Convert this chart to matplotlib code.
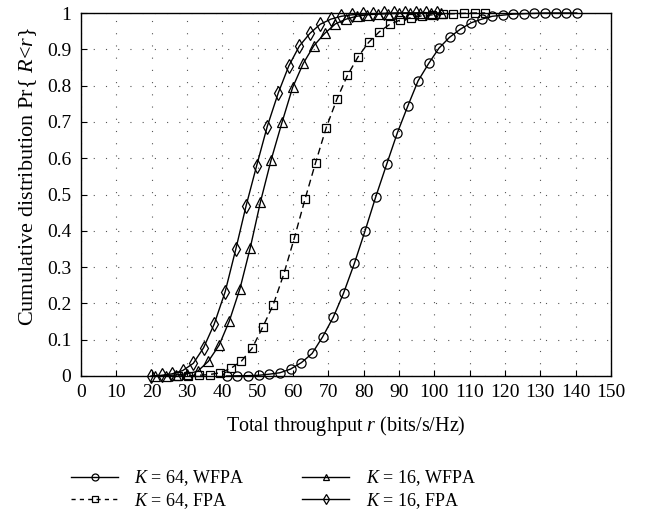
import matplotlib
matplotlib.use("Agg")
import matplotlib.pyplot as plt
from matplotlib.lines import Line2D

plt.rcParams['font.family'] = ['Liberation Serif', 'DejaVu Serif']
plt.rcParams['mathtext.fontset'] = 'custom'
plt.rcParams['mathtext.rm'] = 'Liberation Serif'
plt.rcParams['mathtext.it'] = 'Liberation Serif:italic'

# K = 64, WFPA (circles)
x_k64_wfpa = [41.2, 44.2, 47.3, 50.3, 53.3, 56.3, 59.3, 62.4, 65.4, 68.4, 71.4, 74.3, 77.4, 80.4,
              83.4, 86.5, 89.5, 92.5, 95.4, 98.4, 101.3, 104.3, 107.3, 110.4, 113.4, 116.4, 119.3,
              122.3, 125.3, 128.3, 131.3, 134.3, 137.4, 140.3]
y_k64_wfpa = [0.0, 0.0005, 0.001, 0.002, 0.005, 0.009, 0.019, 0.037, 0.062, 0.108, 0.162, 0.228,
              0.311, 0.400, 0.493, 0.583, 0.669, 0.744, 0.813, 0.861, 0.903, 0.933, 0.955, 0.973,
              0.983, 0.991, 0.994, 0.997, 0.998, 0.999, 1.0, 1.0, 1.0, 1.0]

# K = 64, FPA (squares)
x_k64_fpa = [27.4, 30.4, 33.4, 36.4, 39.4, 42.4, 45.4, 48.4, 51.4, 54.4, 57.4, 60.4, 63.4, 66.4,
             69.4, 72.4, 75.4, 78.4, 81.4, 84.4, 87.4, 90.4, 93.4, 96.4, 99.4, 102.4, 105.4,
             108.4, 111.4, 114.4]
y_k64_fpa = [0.0, 0.001, 0.002, 0.004, 0.009, 0.021, 0.041, 0.076, 0.134, 0.196, 0.281, 0.381,
             0.487, 0.588, 0.684, 0.762, 0.828, 0.879, 0.919, 0.948, 0.969, 0.981, 0.987, 0.992,
             0.995, 0.997, 0.998, 0.999, 1.0, 1.0]

# K = 16, WFPA (triangles)
x_k16_wfpa = [21.0, 24.0, 27.0, 30.0, 33.0, 36.0, 39.1, 42.0, 45.0, 47.9, 50.8, 53.8, 56.9, 59.9,
              62.9, 65.9, 69.0, 72.0, 75.0, 78.0, 81.0, 84.0, 87.0, 90.0, 93.0, 96.0, 99.0, 102.0]
y_k16_wfpa = [0.0, 0.001, 0.003, 0.006, 0.013, 0.040, 0.085, 0.152, 0.241, 0.353, 0.480, 0.595,
              0.699, 0.795, 0.861, 0.910, 0.944, 0.970, 0.983, 0.991, 0.995, 0.997, 0.998, 0.999,
              1.0, 1.0, 1.0, 1.0]

# K = 16, FPA (diamonds)
x_k16_fpa = [19.8, 22.8, 25.8, 28.8, 31.8, 34.7, 37.7, 40.8, 43.8, 46.7, 49.7, 52.7, 55.8, 58.8,
             61.8, 64.8, 67.7, 70.7, 73.7, 76.7, 79.7, 82.7, 85.7, 88.7, 91.7, 94.7, 97.7, 100.7]
y_k16_fpa = [0.0, 0.002, 0.006, 0.015, 0.035, 0.078, 0.143, 0.232, 0.349, 0.468, 0.579, 0.687,
             0.779, 0.854, 0.909, 0.944, 0.969, 0.983, 0.991, 0.995, 0.997, 0.998, 0.999, 1.0,
             1.0, 1.0, 1.0, 1.0]

labels = ["$K$ = 64, WFPA", "$K$ = 64, FPA", "$K$ = 16, WFPA", "$K$ = 16, FPA"]
xticks = list(range(0, 151, 10))
yticks = [i / 10 for i in range(11)]
ytick_labels = ["0", "0.1", "0.2", "0.3", "0.4", "0.5", "0.6", "0.7", "0.8", "0.9", "1"]

fig = plt.figure(figsize=(6.49, 5.12), dpi=100)
ax = fig.add_axes([81/649, 1-376/512, 530/649, 363/512])

ms = 6.6
common = dict(color='black', lw=1.0, markerfacecolor='none', markeredgecolor='black',
              markeredgewidth=0.9, markersize=ms, clip_on=False, zorder=3)
ax.plot(x_k64_wfpa, y_k64_wfpa, marker='o', ls='-', **common)
ax.plot(x_k64_fpa, y_k64_fpa, marker='s', ls=(0, (5, 3)), **{**common, 'markersize': ms-0.6})
ax.plot(x_k16_wfpa, y_k16_wfpa, marker='^', ls='-', **common)
ax.plot(x_k16_fpa, y_k16_fpa, marker='d', ls='-', **{**common, 'markersize': ms+0.6})

ax.set_xlim(0, 150)
ax.set_ylim(0, 1)
ax.set_xticks(xticks)
ax.set_yticks(yticks)
ax.set_yticklabels(ytick_labels)
ax.tick_params(direction='in', length=4, width=0.8, labelsize=14, top=False, right=False)
ax.tick_params(axis='x', pad=6)
ax.tick_params(axis='y', pad=7)
for s in ax.spines.values():
    s.set_linewidth(1.0)
ax.grid(True, color='#555555', ls=(0, (1, 10)), lw=0.8)
ax.set_axisbelow(True)

ax.set_xlabel("Total throughput $r$ (bits/s/Hz)", fontsize=14.5, labelpad=9)
ax.set_ylabel("Cumulative distribution Pr{ $R$<$r$}", fontsize=16, labelpad=5)
ax.yaxis.set_label_coords(-0.08, 0.55)

lms = 5
handles = [
    Line2D([], [], color='black', lw=1.0, marker='o', ms=lms, mfc='none', mew=0.9),
    Line2D([], [], color='black', lw=1.0, ls=(0, (3, 3)), marker='s', ms=lms-0.5, mfc='none', mew=0.9),
    Line2D([], [], color='black', lw=1.0, marker='^', ms=lms, mfc='none', mew=0.9),
    Line2D([], [], color='black', lw=1.0, marker='d', ms=lms, mfc='none', mew=0.9),
]
fig.legend(handles, labels, loc='upper left', bbox_to_anchor=(55/649, 1-452/512), ncol=2,
           frameon=False, fontsize=13, handlelength=2.6, columnspacing=3.2, labelspacing=0.15,
           handletextpad=0.9)

fig.savefig("out.png", dpi=100)
